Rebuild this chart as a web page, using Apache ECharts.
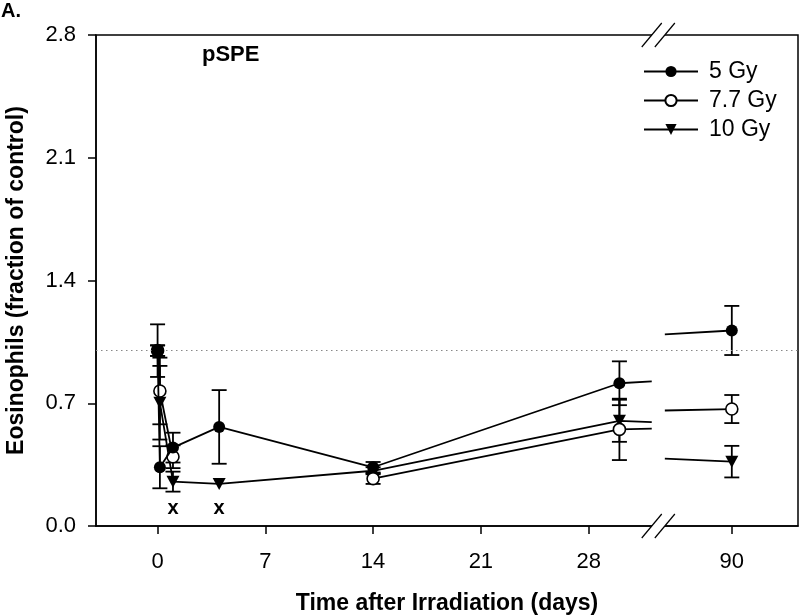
<!DOCTYPE html>
<html>
<head>
<meta charset="utf-8">
<script src="https://cdn.jsdelivr.net/npm/echarts@6/dist/echarts.min.js"></script>
<style>
html,body{margin:0;padding:0;background:#fff;}
#chart{width:800px;height:616px;}
</style>
</head>
<body>
<div id="chart"></div>
<script>
// ---- data ----
const days = [0, 0.15, 1, 4, 14, 30, 90];
const gy5 = [1.0, 0.335, 0.447, 0.565, 0.335, 0.814, 1.115];
const gy5Err = [0.15, 0.12, 0.085, 0.21, 0.03, 0.125, 0.14];
const gy77 = [1.0, 0.77, 0.395, null, 0.27, 0.551, 0.667];
const gy77Err = [0.03, 0.19, 0.065, null, 0.03, 0.175, 0.08];
const gy10 = [1.0, 0.703, 0.253, 0.24, 0.315, 0.60, 0.367];
const gy10Err = [0.03, 0.21, 0.057, null, 0.02, 0.12, 0.09];
const seriesNames = ['5 Gy', '7.7 Gy', '10 Gy'];
const xTickDays = [0, 7, 14, 21, 28, 90];
const yTicks = [0, 0.7, 1.4, 2.1, 2.8];
const sigDays = [1, 4];        // significance marks "x"
const sigY = 0.1;
const refLine = 1.0;

// ---- axis break (28 ... 90) ----
const BREAK_START = 32.1;
const BREAK_END = 85.65;
const SHIFT = 52.7;
function toDisplay(d) { return d >= BREAK_END ? d - SHIFT : d; }

function buildLine(vals) {
  const out = [];
  for (let i = 0; i < days.length; i++) {
    const d = days[i], v = vals[i];
    if (i > 0 && days[i - 1] <= BREAK_START && d >= BREAK_END) {
      const pd = days[i - 1], pv = vals[i - 1];
      if (pv != null && v != null) {
        const f1 = (BREAK_START - pd) / (d - pd);
        const f2 = (BREAK_END - pd) / (d - pd);
        out.push({ value: [toDisplay(BREAK_START), pv + (v - pv) * f1], symbol: 'none' });
        out.push({ value: [toDisplay(BREAK_START) + 0.4, '-'], symbol: 'none' });
        out.push({ value: [toDisplay(BREAK_END), pv + (v - pv) * f2], symbol: 'none' });
      }
    }
    out.push({ value: [toDisplay(d), v == null ? '-' : v] });
  }
  return out;
}
function buildErr(vals, errs) {
  const out = [];
  for (let i = 0; i < days.length; i++) {
    if (vals[i] == null || errs[i] == null) continue;
    out.push([toDisplay(days[i]), vals[i] - errs[i], vals[i] + errs[i]]);
  }
  return out;
}

const FONT = "'Liberation Sans', Arial, sans-serif";
const chart = echarts.init(document.getElementById('chart'), null, { renderer: 'canvas' });

function errSeries(data) {
  return {
    type: 'custom',
    z: 1,
    silent: true,
    data: data,
    renderItem: function (params, api) {
      const x = api.value(0);
      const lo = api.coord([x, api.value(1)]);
      const hi = api.coord([x, api.value(2)]);
      const hw = 7.5;
      const st = { stroke: '#000', lineWidth: 1.8 };
      return {
        type: 'group',
        children: [
          { type: 'line', shape: { x1: lo[0], y1: lo[1], x2: hi[0], y2: hi[1] }, style: st },
          { type: 'line', shape: { x1: lo[0] - hw, y1: lo[1], x2: lo[0] + hw, y2: lo[1] }, style: st },
          { type: 'line', shape: { x1: hi[0] - hw, y1: hi[1], x2: hi[0] + hw, y2: hi[1] }, style: st }
        ]
      };
    }
  };
}

const xTickDisplay = xTickDays.map(toDisplay);

const option = {
  animation: false,
  title: [
    { text: 'A.', left: 1, top: 1, padding: 0, textStyle: { fontFamily: FONT, fontWeight: 'bold', fontSize: 20, color: '#000' } },
    { text: 'pSPE', left: 202, top: 44, padding: 0, textStyle: { fontFamily: FONT, fontWeight: 'bold', fontSize: 22, color: '#000' } }
  ],
  legend: {
    data: seriesNames,
    orient: 'vertical',
    left: 643,
    top: 60,
    padding: 0,
    itemWidth: 54,
    itemHeight: 14,
    itemGap: 6,
    selectedMode: false,
    textStyle: { fontFamily: FONT, fontSize: 23, color: '#000', lineHeight: 23, padding: [0, 0, 0, 6] }
  },
  grid: {
    left: 96, right: 2, top: 35, bottom: 90,
    outerBoundsMode: 'none', containLabel: false,
    show: true, borderColor: '#000', borderWidth: 1.5, backgroundColor: 'transparent'
  },
  xAxis: {
    type: 'value',
    min: -4,
    max: 41.6,
    name: 'Time after Irradiation (days)',
    nameLocation: 'middle',
    nameGap: 66,
    nameTextStyle: { fontFamily: FONT, fontWeight: 'bold', fontSize: 23, color: '#000' },
    axisLine: { show: true, onZero: false, lineStyle: { color: '#000', width: 1.5 } },
    axisTick: { show: true, inside: false, length: 8, customValues: xTickDisplay, lineStyle: { color: '#000', width: 1.5 } },
    axisLabel: {
      show: true, margin: 25, customValues: xTickDisplay,
      fontFamily: FONT, fontSize: 22, color: '#000',
      formatter: function (v) {
        const i = xTickDisplay.findIndex(t => Math.abs(t - v) < 1e-6);
        return i >= 0 ? String(xTickDays[i]) : '';
      }
    },
    splitLine: { show: false }
  },
  yAxis: {
    type: 'value',
    min: 0,
    max: 2.8,
    interval: 0.7,
    name: 'Eosinophils (fraction of control)',
    nameLocation: 'middle',
    nameRotate: 90,
    nameGap: 68,
    nameTextStyle: { fontFamily: FONT, fontWeight: 'bold', fontSize: 23, color: '#000' },
    axisLine: { show: true, onZero: false, lineStyle: { color: '#000', width: 1.5 } },
    axisTick: { show: true, inside: false, length: 8, customValues: yTicks, lineStyle: { color: '#000', width: 1.5 } },
    axisLabel: {
      show: true, margin: 20, customValues: yTicks,
      fontFamily: FONT, fontSize: 22, color: '#000',
      formatter: v => v.toFixed(1)
    },
    splitLine: { show: false }
  },
  series: [
    errSeries(buildErr(gy10, gy10Err)),
    errSeries(buildErr(gy77, gy77Err)),
    errSeries(buildErr(gy5, gy5Err)),
    {
      name: '10 Gy', type: 'line', z: 3,
      data: buildLine(gy10),
      symbol: 'triangle', symbolRotate: 180, symbolSize: [13, 12],
      showAllSymbol: true, connectNulls: false,
      lineStyle: { color: '#000', width: 1.8 },
      itemStyle: { color: '#000', borderColor: '#000', borderWidth: 0 },
      emphasis: { disabled: true }
    },
    {
      name: '7.7 Gy', type: 'line', z: 4,
      data: buildLine(gy77),
      symbol: 'circle', symbolSize: 12,
      showAllSymbol: true, connectNulls: false,
      lineStyle: { color: '#000', width: 1.8 },
      itemStyle: { color: '#fff', borderColor: '#000', borderWidth: 1.6 },
      emphasis: { disabled: true }
    },
    {
      name: '5 Gy', type: 'line', z: 5,
      data: buildLine(gy5),
      symbol: 'circle', symbolSize: 12,
      showAllSymbol: true, connectNulls: false,
      lineStyle: { color: '#000', width: 1.8 },
      itemStyle: { color: '#000', borderColor: '#000', borderWidth: 0 },
      emphasis: { disabled: true },
      markLine: {
        silent: true, symbol: 'none', label: { show: false },
        lineStyle: { color: '#888', type: [1.5, 3.5], width: 1 },
        data: [{ yAxis: refLine }]
      }
    },
    {
      name: 'sig', type: 'scatter', z: 6, silent: true,
      data: sigDays.map(d => [toDisplay(d), sigY]),
      symbol: 'circle', symbolSize: 1,
      itemStyle: { opacity: 0 },
      label: { show: true, position: 'inside', formatter: 'x', fontFamily: FONT, fontWeight: 'bold', fontSize: 20, color: '#000', opacity: 1 }
    }
  ]
};
chart.setOption(option);

// break marks (double slash) on top and bottom axis lines
function breakGraphics() {
  const g = [];
  const xs = [toDisplay(BREAK_START), toDisplay(BREAK_END)];
  const ys = [0, 2.8];
  ys.forEach(yv => {
    const p1 = chart.convertToPixel({ gridIndex: 0 }, [xs[0], yv]);
    const p2 = chart.convertToPixel({ gridIndex: 0 }, [xs[1], yv]);
    const dx = 10, dy = 12;
    g.push({
      type: 'polygon', z: 100,
      shape: { points: [[p1[0] - dx, p1[1] + dy], [p1[0] + dx, p1[1] - dy], [p2[0] + dx, p2[1] - dy], [p2[0] - dx, p2[1] + dy]] },
      style: { fill: '#fff', stroke: null }
    });
    [p1, p2].forEach(p => {
      g.push({
        type: 'line', z: 101,
        shape: { x1: p[0] - dx, y1: p[1] + dy, x2: p[0] + dx, y2: p[1] - dy },
        style: { stroke: '#000', lineWidth: 1.2 }
      });
    });
  });
  return g;
}
chart.setOption({ graphic: breakGraphics() });
</script>
</body>
</html>
